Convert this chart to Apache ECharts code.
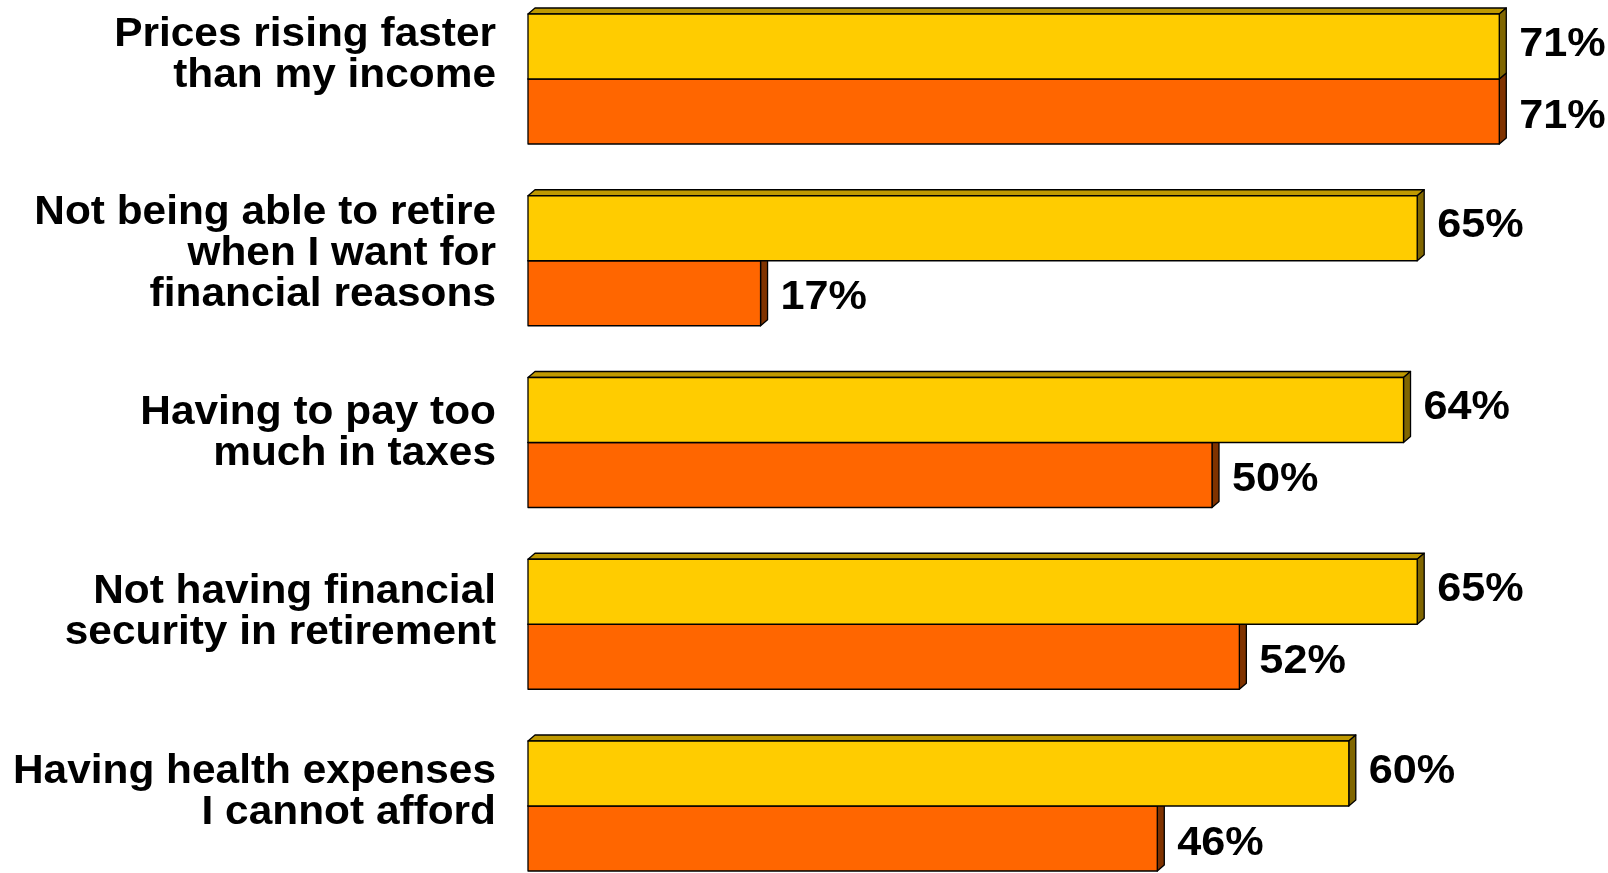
<!DOCTYPE html>
<html>
<head>
<meta charset="utf-8">
<script src="https://cdn.jsdelivr.net/npm/echarts@6/dist/echarts.min.js"></script>
<style>
html,body{margin:0;padding:0;background:#fff;}
#chart{width:1608px;height:873px;}
</style>
</head>
<body>
<div id="chart"></div>
<script>
// ---- data ----
const categories = [
  'Prices rising faster\nthan my income',
  'Not being able to retire\nwhen I want for\nfinancial reasons',
  'Having to pay too\nmuch in taxes',
  'Not having financial\nsecurity in retirement',
  'Having health expenses\nI cannot afford'
];
const yellowValues = [71, 65, 64, 65, 60];
const orangeValues = [71, 17, 50, 52, 46];

// ---- layout / style ----
const labelShift = [24, 7, 9, 12, 14]; // upward nudge of category text (px)
const FONT = '"Liberation Sans", Arial, sans-serif';
const BAR_FRAC = 65 / 181.75;
const DX = 7, DY = 6;
const STRETCH = 1.08;

function makeRender(pos, front, topC, sideC, labelDy) {
  return function (params, api) {
    const v = api.value(0), c = api.value(1);
    const p0 = api.coord([0, c]);
    const p1 = api.coord([v, c]);
    const band = api.size([0, 1])[1];
    const h = band * BAR_FRAC;
    const yT = pos === 'top' ? p0[1] - h : p0[1];
    const yB = yT + h;
    const x0 = p0[0], x1 = p1[0];
    const stroke = {stroke: '#000', lineWidth: 1.3, lineJoin: 'round'};
    return {
      type: 'group',
      children: [
        {type: 'polygon', shape: {points: [[x0, yT], [x0 + DX, yT - DY], [x1 + DX, yT - DY], [x1, yT]]},
         style: Object.assign({fill: topC}, stroke)},
        {type: 'polygon', shape: {points: [[x1, yT], [x1 + DX, yT - DY], [x1 + DX, yB - DY], [x1, yB]]},
         style: Object.assign({fill: sideC}, stroke)},
        {type: 'rect', shape: {x: x0, y: yT, width: x1 - x0, height: h},
         style: Object.assign({fill: front}, stroke)},
        {type: 'text', x: x1 + 20, y: (yT + yB) / 2 + labelDy, scaleX: STRETCH,
         style: {text: v + '%', x: 0, y: 0,
          align: 'left', verticalAlign: 'middle', fontSize: 40, fontWeight: 'bold',
          fontFamily: FONT, fill: '#000'}}
      ]
    };
  };
}

function renderCategoryLabel(params, api) {
  const c = api.value(1);
  const p = api.coord([0, c]);
  return {
    type: 'text', x: p[0] - 32, y: p[1] - labelShift[c], scaleX: 1.06,
    style: {text: categories[c], x: 0, y: 0, align: 'right', verticalAlign: 'middle',
      fontSize: 40, fontWeight: 'bold', fontFamily: FONT, fill: '#000', lineHeight: 41}
  };
}

const chart = echarts.init(document.getElementById('chart'), null, {renderer: 'canvas'});
chart.setOption({
  animation: false,
  backgroundColor: '#fff',
  grid: {left: 528, right: 54, top: -11.875, height: 908.75, containLabel: false, outerBoundsMode: 'none'},
  xAxis: {type: 'value', min: 0, max: 75, show: false},
  yAxis: {
    type: 'category', inverse: true, data: categories,
    axisLine: {show: false}, axisTick: {show: false}, splitLine: {show: false},
    axisLabel: {show: false}
  },
  series: [
    {type: 'custom', name: 'Categories', data: categories.map((c, i) => [0, i]), encode: {x: 0, y: 1},
     renderItem: renderCategoryLabel, clip: false, z: 1},
    {type: 'custom', name: 'Series B', data: orangeValues.map((v, i) => [v, i]), encode: {x: 0, y: 1},
     renderItem: makeRender('bottom', '#FF6600', '#BF4C00', '#803300', 5), clip: false, z: 2},
    {type: 'custom', name: 'Series A', data: yellowValues.map((v, i) => [v, i]), encode: {x: 0, y: 1},
     renderItem: makeRender('top', '#FFCC00', '#BF9900', '#806600', -2), clip: false, z: 3}
  ]
});
</script>
</body>
</html>
